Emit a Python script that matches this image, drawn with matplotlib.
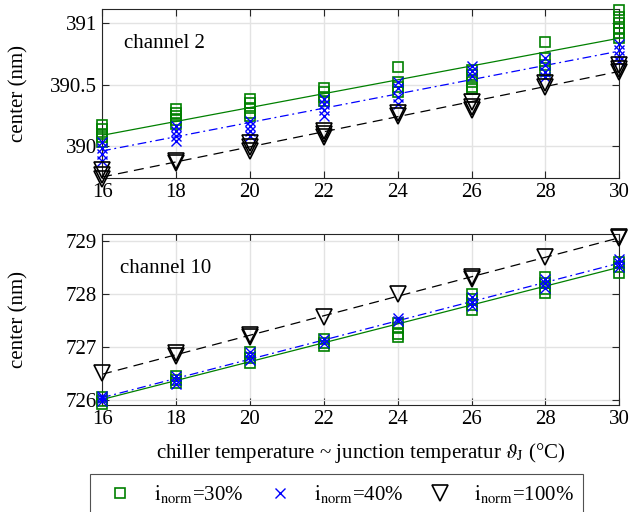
import numpy as np
import matplotlib
matplotlib.use("Agg")
import matplotlib.pyplot as plt

plt.rcParams["font.family"] = ["Liberation Serif", "DejaVu Serif"]
plt.rcParams["mathtext.fontset"] = "stix"

temps = [16, 18, 20, 22, 24, 26, 28, 30]

# channel 2, repeated measurements per chiller temperature (nm)
ch2_30 = [
    [390.17, 390.14, 390.10, 390.07, 390.03],
    [390.30, 390.27, 390.24, 390.21, 390.18],
    [390.38, 390.35, 390.31, 390.27, 390.24],
    [390.47, 390.44, 390.40, 390.37],
    [390.64, 390.52, 390.48, 390.44],
    [390.62, 390.58, 390.52, 390.48, 390.46],
    [390.85, 390.72, 390.66, 390.61],
    [391.11, 391.05, 391.00, 390.95, 390.92, 390.88],
]
ch2_40 = [
    [390.03, 389.98, 389.93, 389.88],
    [390.16, 390.12, 390.08, 390.04],
    [390.20, 390.16, 390.12, 390.08],
    [390.38, 390.34, 390.29, 390.24],
    [390.52, 390.47, 390.40, 390.34],
    [390.65, 390.61, 390.57],
    [390.72, 390.66, 390.60, 390.56],
    [390.83, 390.78, 390.73, 390.69],
]
ch2_100 = [
    [389.80, 389.76, 389.73],
    [389.88, 389.86],
    [390.02, 389.99, 389.96],
    [390.12, 390.10, 390.07],
    [390.27, 390.24],
    [390.36, 390.32, 390.29],
    [390.51, 390.48],
    [390.66, 390.63, 390.60],
]

# channel 10
ch10_30 = [
    [726.05, 725.98, 725.92],
    [726.45, 726.38, 726.32],
    [726.90, 726.80, 726.70],
    [727.15, 727.08, 727.02],
    [727.45, 727.35, 727.25, 727.18],
    [728.00, 727.90, 727.80, 727.70],
    [728.32, 728.20, 728.10, 728.02],
    [728.60, 728.50, 728.40],
]
ch10_40 = [
    [726.08, 726.03, 725.98],
    [726.45, 726.38, 726.30],
    [726.90, 726.83, 726.75],
    [727.15, 727.08],
    [727.55, 727.48],
    [727.95, 727.85, 727.78],
    [728.28, 728.20, 728.12],
    [728.65, 728.58, 728.50],
]
ch10_100 = [
    [726.50],
    [726.88, 726.83],
    [727.23, 727.19],
    [727.57],
    [728.00],
    [728.32, 728.28],
    [728.70],
    [729.08, 729.05],
]

series_styles = [
    ("#008000", "s", 7, (None, None), r"$\mathrm{i_{norm}}$=30%"),
    ("#0000ff", "x", 7, (7, 3, 1.5, 3), r"$\mathrm{i_{norm}}$=40%"),
    ("black", "v", 11, (8, 5), r"$\mathrm{i_{norm}}$=100%"),
]


def flatten(groups):
    xs, ys = [], []
    for t, vals in zip(temps, groups):
        xs += [t] * len(vals)
        ys += vals
    return np.array(xs), np.array(ys)


def draw_channel(ax, groups_list, title, tx, ylim, yticks, ytl):
    handles = []
    for groups, (col, mk, ms, dash, lab) in zip(groups_list, series_styles):
        xs, ys = flatten(groups)
        if mk == "x":
            h, = ax.plot(xs, ys, linestyle="none", marker=mk, color=col,
                         markersize=ms, mew=1.0, label=lab, clip_on=False,
                         zorder=3)
        else:
            h, = ax.plot(xs, ys, linestyle="none", marker=mk, markersize=ms,
                         markerfacecolor="none", markeredgecolor=col, mew=1.2,
                         label=lab, clip_on=False, zorder=3)
        p = np.polyfit(xs, ys, 1)
        xf = np.array([temps[0], temps[-1]])
        ln, = ax.plot(xf, np.polyval(p, xf), "-", color=col, lw=0.9, zorder=2)
        if dash[0] is not None:
            ln.set_dashes(dash)
        handles.append(h)
    ax.set_xlim(16, 30)
    ax.set_ylim(*ylim)
    ax.set_xticks(temps)
    ax.set_yticks(yticks)
    ax.set_yticklabels(ytl)
    ax.grid(True, color="#e3e3e3", lw=1)
    ax.set_axisbelow(True)
    ax.tick_params(direction="in", top=True, right=True, labelsize=15,
                   length=5, color="#262626")
    for s in ax.spines.values():
        s.set_color("#262626")
    ax.set_ylabel("center (nm)", fontsize=15)
    ax.yaxis.set_label_coords(-0.143, 0.5)
    ax.text(tx, 0.80, title, transform=ax.transAxes, fontsize=15, va="center")
    return handles


fig = plt.figure(figsize=(6.3, 5.12), dpi=100)
ax1 = fig.add_axes([0.162, 0.652, 0.821, 0.330])
ax2 = fig.add_axes([0.162, 0.209, 0.821, 0.333])

draw_channel(ax1, [ch2_30, ch2_40, ch2_100], "channel 2", 0.043,
             (389.737, 391.114), [390, 390.5, 391], ["390", "390.5", "391"])
handles = draw_channel(ax2, [ch10_30, ch10_40, ch10_100], "channel 10", 0.035,
                       (725.906, 729.12), [726, 727, 728, 729],
                       ["726", "727", "728", "729"])

ax2.set_xlabel(r"chiller temperature ~ junction temperatur $\vartheta_\mathrm{J}$ (°C)",
               fontsize=15, labelpad=9)

leg = fig.legend(handles=handles, loc="upper left", ncol=3,
                 bbox_to_anchor=(0.143, 0.0, 0.782, 0.0742), mode="expand",
                 fontsize=15, frameon=True, fancybox=False, edgecolor="#262626",
                 handletextpad=0.6, borderaxespad=0.0, borderpad=0.45)
leg.get_frame().set_linewidth(0.8)

fig.savefig("out.png", dpi=100)
